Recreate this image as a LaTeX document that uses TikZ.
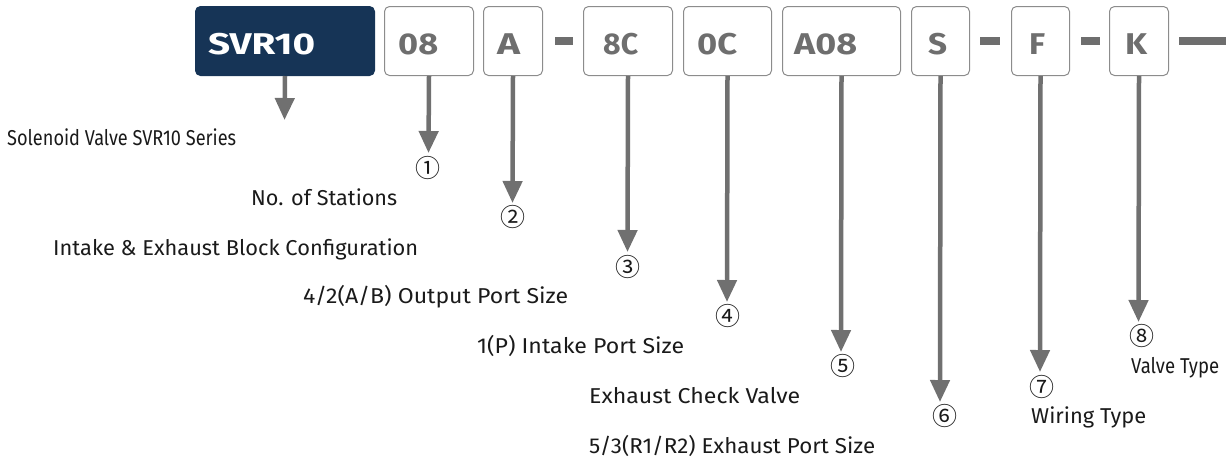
\documentclass[tikz,border=0pt]{standalone}
\usepackage{fontspec}
\usepackage{graphicx}
\setmainfont{Fira Sans}
\newfontfamily\circfont{Noto Sans CJK SC}
\usetikzlibrary{arrows.meta}
\definecolor{navy}{HTML}{163456}
\definecolor{codegray}{HTML}{6E6E6E}
\definecolor{boxline}{HTML}{8C8C8C}
\definecolor{arrowgray}{HTML}{707070}
\definecolor{labelink}{HTML}{1A1A1A}
\newcommand\fitw[2]{\resizebox{#1pt}{\height}{#2}}
\begin{document}
\begin{tikzpicture}[x=1pt,y=-1pt,
  codebox/.style={draw=boxline, line width=1pt, rounded corners=5pt, fill=white,
    minimum height=69pt, inner sep=0pt, anchor=north west},
  codetext/.style={font=\fontsize{30}{30}\selectfont\bfseries, text=codegray, inner sep=0pt, anchor=base west},
  sepbar/.style={fill=codegray},
  arr/.style={draw=arrowgray, line width=4.5pt, -{Triangle[length=22pt,width=19pt]}},
  num/.style={font=\circfont\fontsize{25}{25}\selectfont, text=labelink, inner sep=0pt},
  lab/.style={font=\fontsize{21.5}{21.5}\selectfont, text=labelink, inner sep=0pt, anchor=base west}
]
\useasboundingbox (0,0) rectangle (1226,461);
% code boxes
\node[codebox, minimum width=179pt, fill=navy, draw=navy] (bsvr) at (195,6) {};
\node[codebox, minimum width=89pt] (b08) at (384,6) {};
\node[codebox, minimum width=59pt] (bA) at (483,6) {};
\node[codebox, minimum width=89pt] (b8C) at (583,6) {};
\node[codebox, minimum width=88pt] (b0C) at (683,6) {};
\node[codebox, minimum width=118pt] (bA08) at (782,6) {};
\node[codebox, minimum width=58pt] (bS) at (911,6) {};
\node[codebox, minimum width=58pt] (bF) at (1011,6) {};
\node[codebox, minimum width=59pt] (bK) at (1109,6) {};
% separators
\fill[sepbar] (555,37) rectangle (573,45);
\fill[sepbar] (980,37) rectangle (1000,45);
\fill[sepbar] (1081,37) rectangle (1100,45);
\fill[sepbar] (1179,37) rectangle (1226,45);
% code texts
\node[codetext, text=white] (tsvr) at (208,54) {\fitw{107}{SVR10}};
\node[codetext] (t08) at (398,54) {\fitw{40}{08}};
\node[codetext] (tA) at (497,54) {\fitw{23}{A}};
\node[codetext] (t8C) at (603,54) {\fitw{35}{8C}};
\node[codetext] (t0C) at (697,54) {\fitw{40}{0C}};
\node[codetext] (tA08) at (794,54) {\fitw{63}{A08}};
\node[codetext] (tS) at (928,54) {\fitw{19}{S}};
\node[codetext] (tF) at (1029,54) {\fitw{16}{F}};
\node[codetext] (tK) at (1125,54) {\fitw{22}{K}};
% arrow tips
\coordinate (psvr) at (284.5,120);
\coordinate (p1) at (428.5,153);
\coordinate (p2) at (512.5,203);
\coordinate (p3) at (627.5,252);
\coordinate (p4) at (727,302);
\coordinate (p5) at (841,352);
\coordinate (p6) at (940,402);
\coordinate (p7) at (1040,372);
\coordinate (p8) at (1138.5,322);
\draw[arr] (bsvr.south) -- (psvr);
\draw[arr] (b08.south) -- (p1);
\draw[arr] (bA.south) -- (p2);
\draw[arr] (b8C.south) -- (p3);
\draw[arr] (b0C.south) -- (p4);
\draw[arr] (bA08.south) -- (p5);
\draw[arr] (bS.south) -- (p6);
\draw[arr] (bF.south) -- (p7);
\draw[arr] (bK.south) -- (p8);
% circled numbers
\node[num] (n1) at (428,168) {①};
\node[num] (n2) at (513,217) {②};
\node[num] (n3) at (628,267) {③};
\node[num] (n4) at (728,316) {④};
\node[num] (n5) at (843,366) {⑤};
\node[num] (n6) at (945,416) {⑥};
\node[num] (n7) at (1042,387) {⑦};
\node[num] (n8) at (1142,336) {⑧};
% labels
\node[lab] (l0) at (7,145) {\fitw{229}{Solenoid Valve SVR10 Series}};
\node[lab] (l1) at (251,205) {\fitw{146}{No. of Stations}};
\node[lab] (l2) at (53,255) {\fitw{365}{Intake \& Exhaust Block Configuration}};
\node[lab] (l3) at (303,303) {\fitw{265}{4/2(A/B) Output Port Size}};
\node[lab] (l4) at (477,353) {\fitw{207}{1(P) Intake Port Size}};
\node[lab] (l5) at (589,403) {\fitw{211}{Exhaust Check Valve}};
\node[lab] (l6) at (589,453) {\fitw{286}{5/3(R1/R2) Exhaust Port Size}};
\node[lab] (l7) at (1031,423) {\fitw{115}{Wiring Type}};
\node[lab] (l8) at (1131,373) {\fitw{88}{Valve Type}};
\end{tikzpicture}
\end{document}
